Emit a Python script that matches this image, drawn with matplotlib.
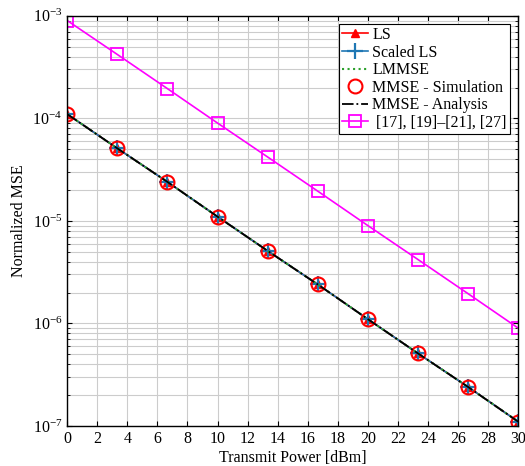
import matplotlib
matplotlib.use("Agg")
import matplotlib.pyplot as plt
import numpy as np

plt.rcParams['font.family'] = ['Liberation Serif', 'DejaVu Serif']
plt.rcParams['mathtext.fontset'] = 'stix'

x = [0, 10/3, 20/3, 10, 40/3, 50/3, 20, 70/3, 80/3, 30]
ls = [1.1e-4, 5.1e-5, 2.4e-5, 1.1e-5, 5.1e-6, 2.4e-6, 1.1e-6, 5.1e-7, 2.4e-7, 1.1e-7]
scaled_ls = [1.1e-4, 5.1e-5, 2.4e-5, 1.1e-5, 5.1e-6, 2.4e-6, 1.1e-6, 5.1e-7, 2.4e-7, 1.1e-7]
lmmse = [1.1e-4, 5.1e-5, 2.4e-5, 1.1e-5, 5.1e-6, 2.4e-6, 1.1e-6, 5.1e-7, 2.4e-7, 1.1e-7]
mmse_sim = [1.1e-4, 5.1e-5, 2.4e-5, 1.1e-5, 5.1e-6, 2.4e-6, 1.1e-6, 5.1e-7, 2.4e-7, 1.1e-7]
mmse_ana = [1.1e-4, 5.1e-5, 2.4e-5, 1.1e-5, 5.1e-6, 2.4e-6, 1.1e-6, 5.1e-7, 2.4e-7, 1.1e-7]
ref = [9.0e-4, 4.2e-4, 1.95e-4, 9.0e-5, 4.2e-5, 1.95e-5, 9.0e-6, 4.2e-6, 1.95e-6, 9.0e-7]
xticks = list(range(0, 31, 2))

fig = plt.figure(figsize=(5.25, 4.66), dpi=100)
ax = fig.add_axes([0.128, 0.086, 0.859, 0.880])

ax.plot(x, ls, color='red', marker='^', markersize=6, lw=1.2, label='LS')
ax.plot(x, scaled_ls, color='#1f77b4', marker='+', markersize=12, mew=1.6, lw=1.2, label='Scaled LS')
ax.plot(x, lmmse, color='#2ca02c', ls=':', lw=1.5, label='LMMSE')
ax.plot(x, mmse_sim, color='red', marker='o', mfc='none', markersize=10, mew=1.5, ls='none', label='MMSE - Simulation')
ax.plot(x, mmse_ana, color='black', ls='-.', lw=1.3, label='MMSE - Analysis')
ax.plot(x, ref, color='magenta', marker='s', mfc='none', markersize=8, mew=1.3, lw=1.2, label=' [17], [19]–[21], [27]')

ax.set_yscale('log')
ax.set_xlim(0, 30)
ax.set_ylim(1e-7, 1e-3)
ax.set_xticks(xticks)
ax.grid(True, which='major', color='#cccccc', lw=0.8)
ax.grid(True, which='minor', axis='y', color='#cccccc', lw=0.8)
ax.set_axisbelow(True)
ax.tick_params(which='both', direction='in', top=True, right=True, labelsize=11.5)
ax.set_xlabel('Transmit Power [dBm]', fontsize=11.5, labelpad=2)
ax.set_ylabel('Normalized MSE', fontsize=11.5)
for s in ax.spines.values():
    s.set_linewidth(1.0)

leg = ax.legend(loc='upper right', fontsize=11.5, fancybox=False, edgecolor='black',
                framealpha=1, handlelength=1.6, borderpad=0.2, labelspacing=0.1,
                handletextpad=0.3, borderaxespad=0.5)
leg.get_frame().set_linewidth(0.8)

fig.savefig('out.png', dpi=100)
